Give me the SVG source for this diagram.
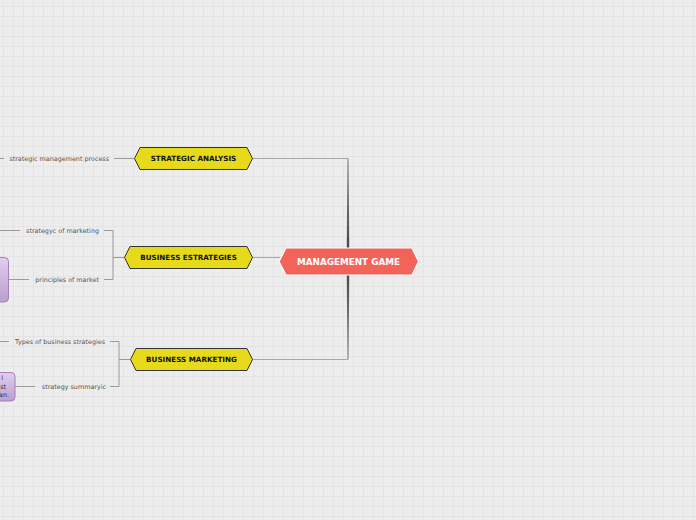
<svg xmlns="http://www.w3.org/2000/svg" width="696" height="520" viewBox="0 0 696 520">
<defs>
<pattern id="grid" x="3" y="6" width="10" height="10" patternUnits="userSpaceOnUse">
<path d="M0.5 0V10M0 0.5H10" stroke="#e4e4e4" stroke-width="1" fill="none"/>
</pattern>
<linearGradient id="purple" x1="0" y1="0" x2="0" y2="1">
<stop offset="0" stop-color="#e2cdee"/>
<stop offset="1" stop-color="#bb9fcf"/>
</linearGradient>
<linearGradient id="vline" x1="0" y1="0" x2="0" y2="1">
<stop offset="0" stop-color="#9a9a9a"/>
<stop offset="0.5" stop-color="#3c3c3c"/>
<stop offset="1" stop-color="#9a9a9a"/>
</linearGradient>
</defs>
<style>
.sub{font-family:"DejaVu Sans",Verdana,sans-serif;font-size:6.4px;fill:#555}
.main{font-family:"DejaVu Sans",Verdana,sans-serif;font-size:7.2px;font-weight:bold;fill:#111}
.root{font-family:"DejaVu Sans",Verdana,sans-serif;font-size:8.8px;font-weight:bold;fill:#fff}
.yel{fill:#e6da1b;stroke:#333;stroke-width:1}
.ln{stroke:#a8a8a8;stroke-width:1.2;fill:none}
.ln2{stroke:#9a9a9a;stroke-width:1;fill:none}
.box{fill:url(#purple);stroke:#a47fbb;stroke-width:1}
.btxt{font-family:"DejaVu Sans",Verdana,sans-serif;font-size:6.4px;fill:#333}
</style>
<rect width="696" height="520" fill="#ededed"/>
<rect width="696" height="520" fill="url(#grid)"/>

<g id="connectors">
<path class="ln" d="M252 158.5H348M252 359.5H348M252 257.5H280"/>
<path d="M347.3 158.5L348.7 158.5L349.3 262L348.7 359.5L347.3 359.5L346.7 262Z" fill="url(#vline)"/>
<path class="ln2" d="M114 158.5H134M0 158.5H4"/>
<path class="ln2" d="M113 257.5H124M104 230.5H113V279.5H104M0 230.5H20M9 279.5H29"/>
<path class="ln2" d="M119 359.5H130M110 341.5H119V386.5H110M0 341.5H9M15 386.5H35"/>
</g>

<g id="management-game">
<path d="M279 261.5L286 248H412L418.5 261.5L412 275H286Z" fill="#f2645a" stroke="#fff" stroke-width="1.2"/>
<text class="root" x="348.5" y="264.5" text-anchor="middle">MANAGEMENT GAME</text>
</g>

<g id="strategic-analysis">
<path class="yel" d="M134.5 158.5L140 147.5H247L252.5 158.5L247 169.5H140Z"/>
<text class="main" x="193.5" y="161" text-anchor="middle">STRATEGIC ANALYSIS</text>
</g>
<g id="business-estrategies">
<path class="yel" d="M124.5 257.5L130 246.5H247L252.5 257.5L247 268.5H130Z"/>
<text class="main" x="188.5" y="260" text-anchor="middle">BUSINESS ESTRATEGIES</text>
</g>
<g id="business-marketing">
<path class="yel" d="M130.5 359.5L136 348.5H247L252.5 359.5L247 370.5H136Z"/>
<text class="main" x="191.5" y="362" text-anchor="middle">BUSINESS MARKETING</text>
</g>

<g id="strategic-management-process">
<text class="sub" x="109" y="160.5" text-anchor="end">strategic management process</text>
</g>
<g id="strategyc-of-marketing">
<text class="sub" x="99" y="232.5" text-anchor="end">strategyc of marketing</text>
</g>
<g id="principles-of-market">
<text class="sub" x="99" y="281.5" text-anchor="end">principles of market</text>
</g>
<g id="principles-box">
<rect class="box" x="-10" y="257.5" width="18.5" height="44.5" rx="4"/>
</g>
<g id="types-of-business-strategies">
<text class="sub" x="105" y="343.5" text-anchor="end">Types of business strategies</text>
</g>
<g id="strategy-summaryic">
<text class="sub" x="106" y="388.5" text-anchor="end">strategy summaryic</text>
</g>
<g id="summary-box">
<rect class="box" x="-10" y="372.5" width="25" height="28.5" rx="4"/>
<text class="btxt" x="3" y="380" text-anchor="end">l</text>
<text class="btxt" x="6" y="388.5" text-anchor="end">st</text>
<text class="btxt" x="9" y="397" text-anchor="end">an.</text>
</g>
</svg>
